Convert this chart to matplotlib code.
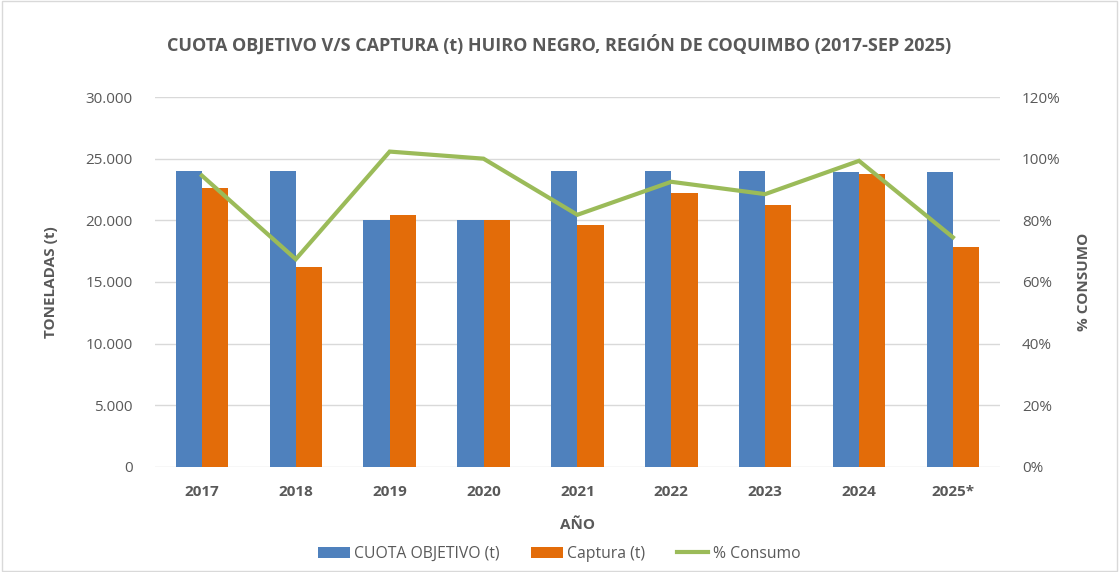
import numpy as np
import matplotlib.pyplot as plt
from matplotlib.ticker import FuncFormatter, MultipleLocator
from matplotlib.patches import Rectangle

anios = ['2017', '2018', '2019', '2020', '2021', '2022', '2023', '2024', '2025*']
cuota = [24000, 24000, 20000, 20000, 24000, 24000, 24000, 23950, 23950]
captura = [22600, 16180, 20450, 20000, 19640, 22210, 21270, 23780, 17860]
consumo = [94.5, 67.4, 102.3, 100.0, 81.8, 92.5, 88.5, 99.3, 74.5]

azul = '#4F81BD'
naranjo = '#E36C09'
verde = '#9BBB59'
gris = '#595959'

plt.rcParams['font.family'] = ['Open Sans', 'DejaVu Sans']

fig = plt.figure(figsize=(11.19, 5.72), dpi=100)
fig.patches.append(Rectangle((0.002, 0.002), 0.996, 0.996, transform=fig.transFigure,
                             fill=False, edgecolor='#D9D9D9', linewidth=1))
ax = fig.add_axes([0.1385, 0.1836, 0.755, 0.6468])
ax2 = ax.twinx()

x = np.arange(len(anios))
w = 0.28
b1 = ax.bar(x - w / 2, cuota, w, color=azul, label='CUOTA OBJETIVO (t)', zorder=2)
b2 = ax.bar(x + w / 2, captura, w, color=naranjo, label='Captura (t)', zorder=2)
l1, = ax2.plot(x, consumo, color=verde, linewidth=3, label='% Consumo',
               solid_joinstyle='miter')

ax.set_xlim(-0.5, len(anios) - 0.5)
ax.set_ylim(0, 30000)
ax.yaxis.set_major_locator(MultipleLocator(5000))
ax.yaxis.set_major_formatter(FuncFormatter(lambda v, p: f'{int(v):,}'.replace(',', '.')))
ax2.set_ylim(0, 120)
ax2.yaxis.set_major_locator(MultipleLocator(20))
ax2.yaxis.set_major_formatter(FuncFormatter(lambda v, p: f'{int(v)}%'))

ax.grid(axis='y', color='#D9D9D9', linewidth=1, zorder=0)
ax.set_axisbelow(True)
for a in (ax, ax2):
    for s in a.spines.values():
        s.set_visible(False)
    a.tick_params(length=0, labelsize=11, labelcolor=gris)

ax.set_xticks(x)
ax.set_xticklabels(anios, fontweight='bold')
ax.tick_params(axis='x', pad=13)
ax.tick_params(axis='y', pad=16)
ax2.tick_params(axis='y', pad=16)

ax.set_xlabel('AÑO', fontsize=11, fontweight='bold', color=gris, labelpad=14)
ax.set_ylabel('TONELADAS (t)', fontsize=11, fontweight='bold', color=gris, labelpad=20)
ax2.set_ylabel('% CONSUMO', fontsize=11, fontweight='bold', color=gris, labelpad=12)

fig.suptitle('CUOTA OBJETIVO V/S CAPTURA (t) HUIRO NEGRO, REGIÓN DE COQUIMBO (2017-SEP 2025)',
             fontsize=13, fontweight='bold', color=gris, y=0.94)

fig.legend(handles=[b1, b2, l1], loc='center', bbox_to_anchor=(0.5, 0.032), ncol=3,
           frameon=False, fontsize=11.3, labelcolor=gris, handlelength=2.0,
           handletextpad=0.3, columnspacing=2.0)

fig.savefig('out.png', dpi=100)
